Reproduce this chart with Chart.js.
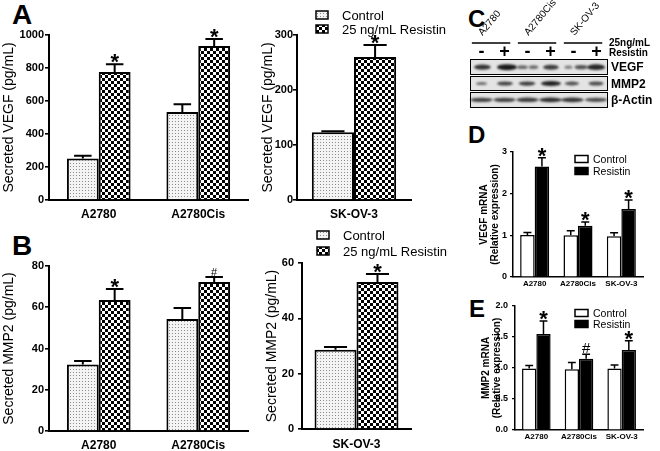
<!DOCTYPE html>
<html>
<head>
<meta charset="utf-8">
<script src="https://cdn.jsdelivr.net/npm/chart.js@4.4.1/dist/chart.umd.min.js"></script>
<style>
  body { margin: 0; background: #fff; }
  #fig { position: relative; width: 660px; height: 451px; overflow: hidden; background: #fff;
         font-family: 'Liberation Sans', Arial, sans-serif; color: #000; }
  .panel { position: absolute; }
  .tag { position: absolute; font-weight: bold; line-height: 1; }
</style>
</head>
<body>
<div id="fig">
  <div class="tag" style="left:12px;top:1px;font-size:28px">A</div>
  <div class="tag" style="left:12px;top:232px;font-size:28px">B</div>
  <div class="tag" style="left:468px;top:7px;font-size:24px">C</div>
  <div class="tag" style="left:468px;top:123px;font-size:24px">D</div>
  <div class="tag" style="left:469px;top:297px;font-size:24px">E</div>

  <div class="panel" style="left:0;top:0"><canvas id="chartA1" width="250" height="225"></canvas></div>
  <div class="panel" style="left:250px;top:0"><canvas id="chartA2" width="210" height="225"></canvas></div>
  <div class="panel" style="left:0;top:230px"><canvas id="chartB1" width="250" height="221"></canvas></div>
  <div class="panel" style="left:250px;top:225px"><canvas id="chartB2" width="210" height="226"></canvas></div>
  <div class="panel" style="left:455px;top:0"><canvas id="chartC" width="205" height="130"></canvas></div>
  <div class="panel" style="left:455px;top:135px"><canvas id="chartD" width="205" height="155"></canvas></div>
  <div class="panel" style="left:455px;top:290px"><canvas id="chartE" width="205" height="161"></canvas></div>
</div>

<script>
// ---- data ----
const cellPair = ['A2780', 'A2780Cis'];
const cellSk = ['SK-OV-3'];
const cellAll = ['A2780', 'A2780Cis', 'SK-OV-3'];

// A: secreted VEGF (pg/mL)
const vegfCtrl = [252, 534];
const vegfCtrlErr = [16, 46];
const vegfRes = [776, 933];
const vegfResErr = [47, 43];
const vegfSig = ['*', '*'];
const vegfSkCtrl = [123];
const vegfSkCtrlErr = [2];
const vegfSkRes = [260];
const vegfSkResErr = [22];
const vegfSkSig = ['*'];
const vegfTicks = [0, 200, 400, 600, 800, 1000];
const vegfSkTicks = [0, 100, 200, 300];

// B: secreted MMP2 (pg/mL)
const mmpCtrl = [32.2, 54.3];
const mmpCtrlErr = [1.7, 5.3];
const mmpRes = [63.5, 72.2];
const mmpResErr = [5.3, 2.5];
const mmpSig = ['*', '#'];
const mmpSkCtrl = [28.6];
const mmpSkCtrlErr = [1.0];
const mmpSkRes = [53.1];
const mmpSkResErr = [2.9];
const mmpSkSig = ['*'];
const mmpTicks = [0, 20, 40, 60, 80];
const mmpSkTicks = [0, 20, 40, 60];

// D: VEGF mRNA
const vegfMrnaCtrl = [1.01, 1.0, 0.98];
const vegfMrnaCtrlErr = [0.06, 0.11, 0.08];
const vegfMrnaRes = [2.65, 1.23, 1.63];
const vegfMrnaResErr = [0.21, 0.09, 0.22];
const vegfMrnaSig = ['*', '*', '*'];
const vegfMrnaTicks = [0, 1, 2, 3];

// E: MMP2 mRNA
const mmpMrnaCtrl = [0.99, 0.98, 0.99];
const mmpMrnaCtrlErr = [0.05, 0.11, 0.06];
const mmpMrnaRes = [1.55, 1.15, 1.29];
const mmpMrnaResErr = [0.21, 0.07, 0.15];
const mmpMrnaSig = ['*', '#', '*'];
const mmpMrnaTicks = [0, 0.5, 1, 1.5, 2];
const mmpMrnaTickLabels = ['0.0', '0.5', '1.0', '1.5', '2.0'];

// C: western blot (lane position, band strength 0..1)
const laneSigns = ['-', '+', '-', '+', '-', '+'];
const blotRows = ['VEGF', 'MMP2', 'β-Actin'];
const vegfBandLane = [0.04, 1.11, 1.78, 2.26, 3.02, 3.78, 4.33, 4.98];
const vegfBandLevel = [0.8, 1.0, 0.45, 0.4, 0.75, 0.3, 0.6, 0.9];
const mmp2BandLane = [0, 1.02, 1.98, 3.02, 3.93, 4.98];
const mmp2BandLevel = [0.4, 0.7, 0.75, 0.95, 0.6, 0.65];
const actinBandLane = [0, 1, 2, 3, 3.95, 4.98];
const actinBandLevel = [0.7, 0.7, 0.75, 0.85, 0.8, 0.65];

const FONT = "'Liberation Sans', Arial, sans-serif";
Chart.defaults.font.family = FONT;
Chart.defaults.color = '#000';

// 塗りパターン
function makePattern(kind) {
    const c = document.createElement('canvas');
    const g = c.getContext('2d');
    if (kind === 'dots') {
        c.width = 3; c.height = 3;
        g.fillStyle = '#f4f4f4'; g.fillRect(0, 0, 3, 3);
        g.fillStyle = '#8c8c8c'; g.fillRect(1, 1, 1, 1);
    } else {
        c.width = 6; c.height = 6;
        g.fillStyle = '#fff'; g.fillRect(0, 0, 6, 6);
        g.fillStyle = '#000'; g.fillRect(0, 0, 3, 3); g.fillRect(3, 3, 3, 3);
    }
    return g.createPattern(c, 'repeat');
}
const dotFill = makePattern('dots');
const checkFill = makePattern('check');

// error bars + significance marks
const errorBars = {
    id: 'errorBars',
    afterDatasetsDraw(chart, args, opts) {
        const ctx = chart.ctx;
        const yScale = chart.scales.y;
        chart.data.datasets.forEach((ds, i) => {
            const meta = chart.getDatasetMeta(i);
            meta.data.forEach((bar, j) => {
                const top = yScale.getPixelForValue(ds.data[j] + ds.errors[j]);
                const half = bar.width * opts.cap / 2;
                ctx.save();
                ctx.strokeStyle = '#000';
                ctx.lineWidth = opts.lineWidth;
                ctx.beginPath();
                ctx.moveTo(bar.x, bar.y);
                ctx.lineTo(bar.x, top);
                ctx.moveTo(bar.x - half, top);
                ctx.lineTo(bar.x + half, top);
                ctx.stroke();
                const mark = ds.marks ? ds.marks[j] : '';
                if (mark) {
                    ctx.fillStyle = '#000';
                    ctx.textAlign = 'center';
                    ctx.textBaseline = 'alphabetic';
                    ctx.font = mark === '*' ? 'bold ' + opts.star + 'px ' + FONT : opts.hash + 'px ' + FONT;
                    // 記号の下端をキャップの少し上に合わせる
                    const m = ctx.measureText(mark);
                    ctx.fillText(mark, bar.x, top - opts.gap - m.actualBoundingBoxDescent);
                }
                ctx.restore();
            });
        });
    }
};

// small legend drawn at fixed spot
const boxLegend = {
    id: 'boxLegend',
    afterDraw(chart, args, opts) {
        if (!opts.show) return;
        const ctx = chart.ctx;
        ctx.save();
        chart.data.datasets.forEach((ds, i) => {
            const y = opts.y + i * opts.gap;
            ctx.fillStyle = ds.backgroundColor;
            ctx.fillRect(opts.x, y - opts.h / 2, opts.w, opts.h);
            ctx.strokeStyle = '#000';
            ctx.lineWidth = 1.5;
            ctx.strokeRect(opts.x, y - opts.h / 2, opts.w, opts.h);
            ctx.fillStyle = '#000';
            ctx.font = opts.size + 'px ' + FONT;
            ctx.textAlign = 'left';
            ctx.textBaseline = 'middle';
            ctx.fillText(ds.label, opts.textX, y + 1);
        });
        ctx.restore();
    }
};

function drawBars(id, cfg) {
    const tickLabels = cfg.tickLabels || cfg.ticks.map(String);
    return new Chart(document.getElementById(id).getContext('2d'), {
        type: 'bar',
        data: {
            labels: cfg.labels,
            datasets: [
                { label: cfg.names[0], data: cfg.ctrl, errors: cfg.ctrlErr, marks: [], backgroundColor: cfg.fills[0] },
                { label: cfg.names[1], data: cfg.res, errors: cfg.resErr, marks: cfg.sig, backgroundColor: cfg.fills[1] }
            ]
        },
        options: {
            responsive: false,
            animation: false,
            layout: { padding: { top: cfg.padTop, right: cfg.padRight, left: 0, bottom: 0 } },
            datasets: {
                bar: {
                    categoryPercentage: cfg.catPct,
                    barPercentage: 1,
                    borderColor: '#000',
                    borderWidth: cfg.lw
                }
            },
            plugins: {
                legend: { display: false },
                tooltip: { enabled: false },
                errorBars: { lineWidth: cfg.lw, cap: 0.55, star: cfg.star, hash: cfg.hash, gap: cfg.markGap },
                boxLegend: cfg.legend || { show: false }
            },
            scales: {
                x: {
                    grid: { display: false, drawTicks: false },
                    border: { display: true, color: '#000', width: cfg.lw },
                    ticks: { font: { size: cfg.xFont, weight: 'bold' }, padding: cfg.xPad, autoSkip: false, maxRotation: 0 },
                    afterFit: s => { s.height = cfg.xHeight; }
                },
                y: {
                    min: 0,
                    max: cfg.ticks[cfg.ticks.length - 1],
                    afterBuildTicks: s => { s.ticks = cfg.ticks.map(v => ({ value: v })); },
                    grid: { display: true, drawOnChartArea: false, drawTicks: true, tickLength: cfg.tickLen, color: '#000', lineWidth: cfg.lw * 0.8 },
                    border: { display: true, color: '#000', width: cfg.lw },
                    ticks: { font: { size: cfg.yFont, weight: 'bold' }, padding: cfg.yPad, callback: (v, i) => tickLabels[i] },
                    title: { display: true, text: cfg.yTitle, font: cfg.yTitleFont, padding: { top: cfg.yTitlePad, bottom: 0 } },
                    afterFit: s => { s.width = cfg.yWidth; }
                }
            }
        },
        plugins: [errorBars, boxLegend]
    });
}

const secreted = {
    names: ['Control', '25 ng/mL Resistin'],
    fills: [dotFill, checkFill],
    lw: 2, star: 22, hash: 11, markGap: 1,
    xFont: 12, yFont: 11, tickLen: 4,
    yTitleFont: { size: 14 }
};

drawBars('chartA1', Object.assign({}, secreted, {
    labels: cellPair, ctrl: vegfCtrl, ctrlErr: vegfCtrlErr, res: vegfRes, resErr: vegfResErr, sig: vegfSig,
    ticks: vegfTicks, yTitle: 'Secreted VEGF (pg/mL)',
    padTop: 35, padRight: 2, xHeight: 25, yWidth: 49, yPad: 1, yTitlePad: 1, xPad: 7, catPct: 0.64
}));

drawBars('chartA2', Object.assign({}, secreted, {
    labels: cellSk, ctrl: vegfSkCtrl, ctrlErr: vegfSkCtrlErr, res: vegfSkRes, resErr: vegfSkResErr, sig: vegfSkSig,
    ticks: vegfSkTicks, yTitle: 'Secreted VEGF (pg/mL)',
    padTop: 35, padRight: 49, xHeight: 25, yWidth: 47, yPad: 0, yTitlePad: 10, xPad: 7, catPct: 0.74,
    legend: { show: true, x: 66, y: 15, gap: 14, w: 12, h: 8, textX: 92, size: 13 }
}));

drawBars('chartB1', Object.assign({}, secreted, {
    labels: cellPair, ctrl: mmpCtrl, ctrlErr: mmpCtrlErr, res: mmpRes, resErr: mmpResErr, sig: mmpSig,
    ticks: mmpTicks, yTitle: 'Secreted MMP2 (pg/mL)',
    padTop: 36, padRight: 2, xHeight: 20, yWidth: 49, yPad: 1, yTitlePad: 1, xPad: 7, catPct: 0.64
}));

drawBars('chartB2', Object.assign({}, secreted, {
    labels: cellSk, ctrl: mmpSkCtrl, ctrlErr: mmpSkCtrlErr, res: mmpSkRes, resErr: mmpSkResErr, sig: mmpSkSig,
    ticks: mmpSkTicks, yTitle: 'Secreted MMP2 (pg/mL)',
    padTop: 38, padRight: 49, xHeight: 22, yWidth: 52, yPad: 4, yTitlePad: 14, xPad: 8, catPct: 0.77,
    legend: { show: true, x: 67, y: 10, gap: 16, w: 12, h: 8, textX: 93, size: 13 }
}));

const mrna = {
    labels: cellAll,
    names: ['Control', 'Resistin'],
    fills: ['#fff', '#000'],
    lw: 1.5, star: 22, hash: 15, markGap: 1,
    xFont: 8, yFont: 9, tickLen: 3,
    yTitleFont: { size: 10, weight: 'bold', lineHeight: 1.15 },
    padRight: 17, xPad: 2, catPct: 0.67
};

drawBars('chartD', Object.assign({}, mrna, {
    ctrl: vegfMrnaCtrl, ctrlErr: vegfMrnaCtrlErr, res: vegfMrnaRes, resErr: vegfMrnaResErr, sig: vegfMrnaSig,
    ticks: vegfMrnaTicks, yTitle: ['VEGF mRNA', '(Relative expression)'],
    padTop: 17, xHeight: 13, yWidth: 58, yPad: 3, yTitlePad: 23,
    legend: { show: true, x: 120, y: 24, gap: 12, w: 13, h: 7, textX: 138, size: 10.5 }
}));

drawBars('chartE', Object.assign({}, mrna, {
    ctrl: mmpMrnaCtrl, ctrlErr: mmpMrnaCtrlErr, res: mmpMrnaRes, resErr: mmpMrnaResErr, sig: mmpMrnaSig,
    ticks: mmpMrnaTicks, tickLabels: mmpMrnaTickLabels, yTitle: ['MMP2 mRNA', '(Relative expression)'],
    padTop: 16, xHeight: 21, yWidth: 60, yPad: 4, yTitlePad: 25,
    legend: { show: true, x: 120, y: 23, gap: 11, w: 13, h: 7, textX: 138, size: 10.5 }
}));

// ---- C: blot ----
const blotPlugin = {
    id: 'blot',
    beforeDatasetsDraw(chart) {
        const { ctx, chartArea: a, scales: { x, y } } = chart;
        ctx.save();
        blotRows.forEach((name, r) => {
            const y0 = Math.round(y.getPixelForValue(r - 0.47));
            const y1 = Math.round(y.getPixelForValue(r + 0.47));
            ctx.fillStyle = '#e4e4e4';
            ctx.fillRect(a.left, y0, a.right - a.left, y1 - y0);
            ctx.strokeStyle = '#000';
            ctx.lineWidth = 1;
            ctx.strokeRect(a.left + 0.5, y0 + 0.5, a.right - a.left - 1, y1 - y0 - 1);
            ctx.fillStyle = '#000';
            ctx.font = 'bold 12px ' + FONT;
            ctx.textAlign = 'left';
            ctx.textBaseline = 'middle';
            ctx.fillText(name, a.right + 3, (y0 + y1) / 2 + 1);
        });
        // lane signs
        ctx.font = 'bold 18px ' + FONT;
        ctx.textAlign = 'center';
        laneSigns.forEach((s, k) => ctx.fillText(s, x.getPixelForValue(k), a.top - 7));
        // cell lines
        cellAll.forEach((name, g) => {
            const x0 = x.getPixelForValue(2 * g - 0.42);
            const x1 = x.getPixelForValue(2 * g + 1.25);
            ctx.lineWidth = 1.5;
            ctx.beginPath();
            ctx.moveTo(x0, a.top - 16);
            ctx.lineTo(x1, a.top - 16);
            ctx.stroke();
            ctx.save();
            ctx.translate(x.getPixelForValue(2 * g) + 1, a.top - 23);
            ctx.rotate(-50 * Math.PI / 180);
            ctx.font = '10px ' + FONT;
            ctx.textAlign = 'left';
            ctx.textBaseline = 'alphabetic';
            ctx.fillText(name, 0, 0);
            ctx.restore();
        });
        ctx.font = 'bold 10px ' + FONT;
        ctx.textAlign = 'left';
        ctx.fillText('25ng/mL', a.right + 1, a.top - 16);
        ctx.fillText('Resistin', a.right + 1, a.top - 6);
        ctx.restore();
    },
    afterDatasetsDraw(chart) {
        const { ctx, scales: { x } } = chart;
        const lanePx = x.getPixelForValue(1) - x.getPixelForValue(0);
        ctx.save();
        ctx.filter = 'blur(0.9px)';
        chart.data.datasets.forEach((ds, i) => {
            chart.getDatasetMeta(i).data.forEach((pt, k) => {
                const v = ds.data[k].v;
                const rx = lanePx * (ds.bandBase + ds.bandGrow * v) / 2;
                const ry = ds.bandThick[0] + ds.bandThick[1] * v;
                ctx.fillStyle = 'rgba(15,15,15,' + (0.3 + 0.65 * v) + ')';
                ctx.beginPath();
                ctx.ellipse(pt.x, pt.y, rx, ry / 2, 0, 0, Math.PI * 2);
                ctx.fill();
            });
        });
        ctx.restore();
    }
};

function bandPoints(lanes, levels, row) {
    return lanes.map((l, k) => ({ x: l, y: row, v: levels[k] }));
}

new Chart(document.getElementById('chartC').getContext('2d'), {
    type: 'scatter',
    data: {
        datasets: [
            { data: bandPoints(vegfBandLane, vegfBandLevel, 0), pointRadius: 0, bandBase: 0.12, bandGrow: 0.75, bandThick: [2, 4] },
            { data: bandPoints(mmp2BandLane, mmp2BandLevel, 1), pointRadius: 0, bandBase: 0.2, bandGrow: 0.7, bandThick: [2, 3] },
            { data: bandPoints(actinBandLane, actinBandLevel, 2), pointRadius: 0, bandBase: 0.95, bandGrow: 0.05, bandThick: [3, 2] }
        ]
    },
    options: {
        responsive: false,
        animation: false,
        layout: { padding: { left: 15, right: 52, top: 59, bottom: 22 } },
        plugins: { legend: { display: false }, tooltip: { enabled: false } },
        scales: {
            x: { type: 'linear', min: -0.5, max: 5.5, display: false },
            y: { type: 'linear', min: -0.5, max: 2.5, reverse: true, display: false }
        }
    },
    plugins: [blotPlugin]
});
</script>
</body>
</html>
